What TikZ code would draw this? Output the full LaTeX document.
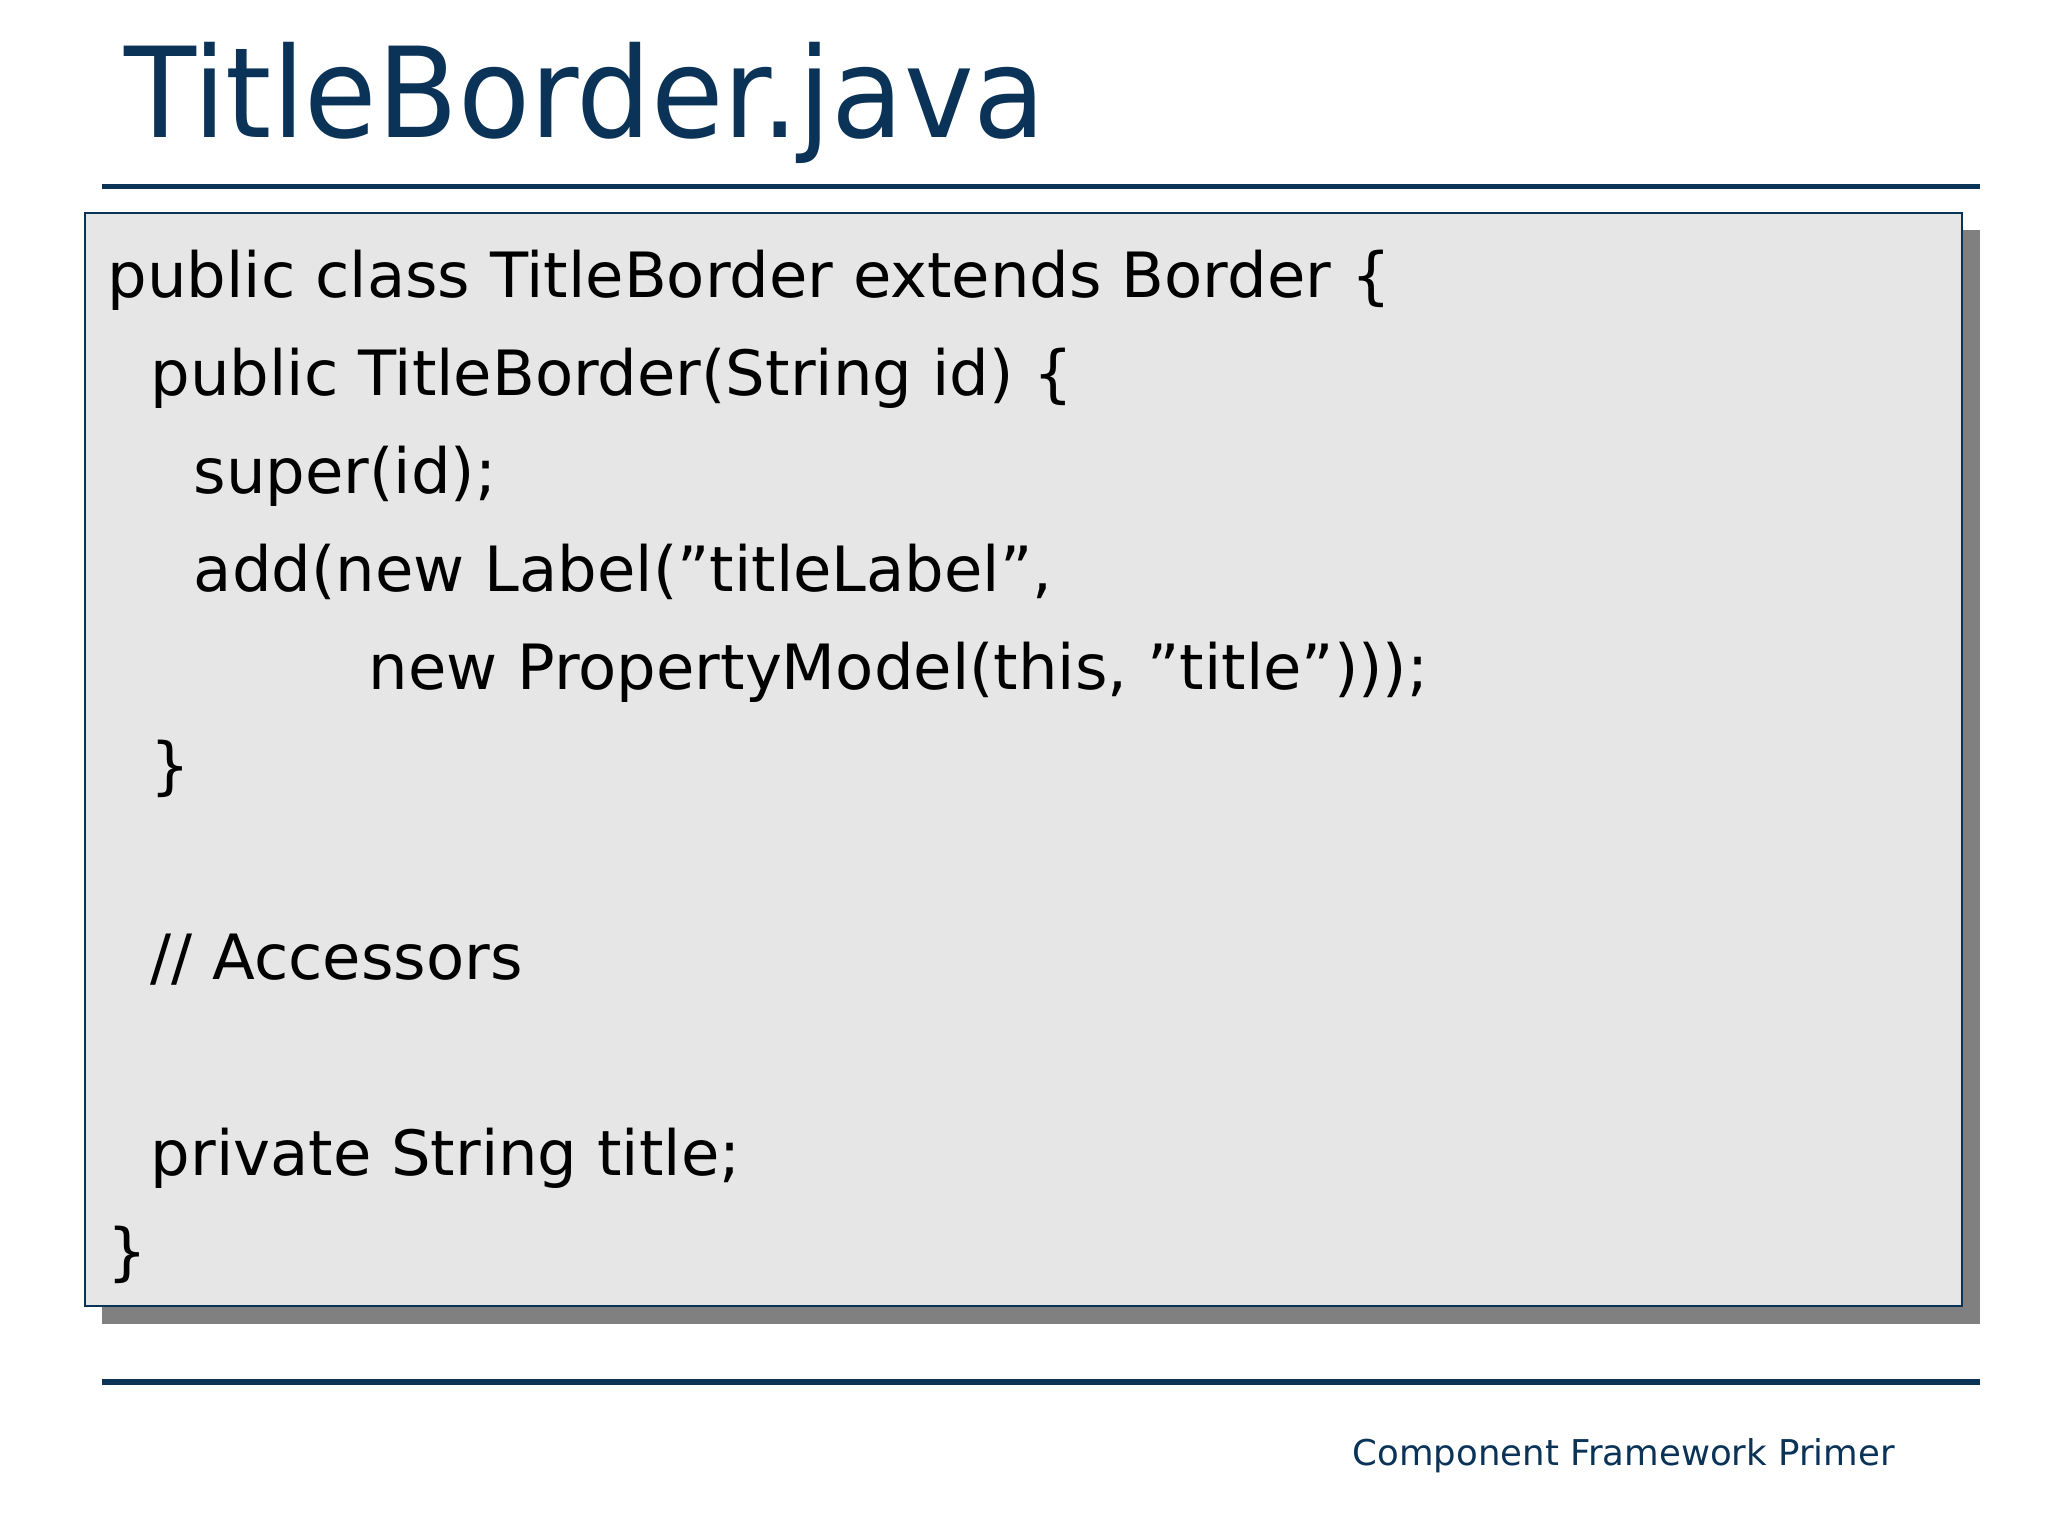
\documentclass[tikz,border=0pt]{standalone}
\usepackage{fontspec}
\setmainfont{DejaVu Sans}
\definecolor{navy}{HTML}{0B3358}
\definecolor{boxfill}{HTML}{E6E6E6}
\definecolor{shadow}{HTML}{808080}
\newcommand{\qq}{\char34\relax}
\begin{document}
\begin{tikzpicture}[x=0.5pt,y=-0.5pt,
  code/.style={anchor=base west,inner sep=0pt,font=\fontsize{23.9}{27}\selectfont,text=black}]
\useasboundingbox (0,0) rectangle (1568,1176);
\node[anchor=base west,inner sep=0pt,text=navy,font=\fontsize{48}{56}\selectfont,xscale=0.94] (title) at (95,105) {TitleBorder.java};
\draw[navy,line width=2pt] (78,143) -- (1516,143);
\fill[shadow] (78,176) rectangle (1516,1014);
\draw[navy,fill=boxfill,line width=0.6pt] (65,163) rectangle (1502,1000);
\node[code] (l1) at (82,228) {public class TitleBorder extends Border \{};
\node[code] (l2) at (115,303) {public TitleBorder(String id) \{};
\node[code] (l3) at (148,378) {super(id);};
\node[code] (l4) at (148,453) {add(new Label(\qq titleLabel\qq,};
\node[code] (l5) at (282,528) {new PropertyModel(this, \qq title\qq)));};
\node[code] (l6) at (115,603) {\}};
\node[code] (l7) at (115,750) {// Accessors};
\node[code] (l8) at (115,900) {private String title;};
\node[code] (l9) at (82,975) {\}};
\draw[navy,line width=2pt] (78,1058) -- (1516,1058);
\node[anchor=base east,inner sep=0pt,text=navy,font=\fontsize{13.6}{16}\selectfont] (foot) at (1451,1122) {Component Framework Primer};
\end{tikzpicture}
\end{document}
